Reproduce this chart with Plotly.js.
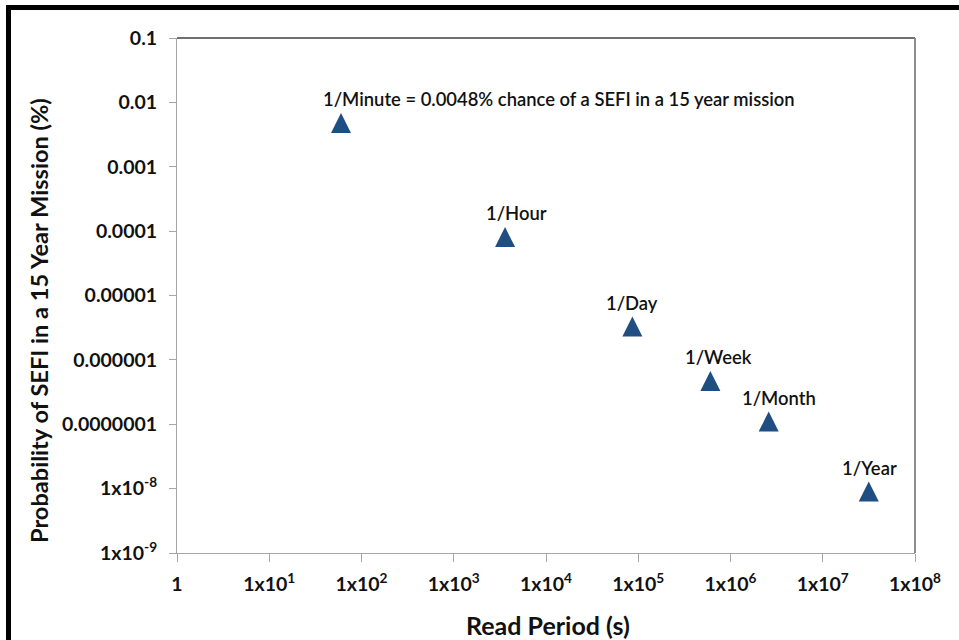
<!DOCTYPE html>
<html>
<head>
<meta charset="utf-8">
<script src="https://cdn.plot.ly/plotly-3.0.1.min.js"></script>
<style>
  html, body { margin: 0; padding: 0; background: #ffffff; }
  #chart { width: 959px; height: 640px; }
</style>
</head>
<body>
<div id="chart"></div>
<script>
// ---- data ----
const readPeriodSeconds = [60, 3600, 86400, 604800, 2592000, 31536000];
const sefiProbabilityPct = [0.0048, 0.000081, 0.0000033, 0.00000047, 0.00000011, 0.0000000090];
const pointLabels = [
  "1/Minute = 0.0048% chance of a SEFI in a 15 year mission",
  "1/Hour", "1/Day", "1/Week", "1/Month", "1/Year"
];
const xTickVals = [1, 1e1, 1e2, 1e3, 1e4, 1e5, 1e6, 1e7, 1e8];
const xTickText = ["1", "1x10<sup>1</sup>", "1x10<sup>2</sup>", "1x10<sup>3</sup>", "1x10<sup>4</sup>",
                   "1x10<sup>5</sup>", "1x10<sup>6</sup>", "1x10<sup>7</sup>", "1x10<sup>8</sup>"];
const yTickVals = [1e-1, 1e-2, 1e-3, 1e-4, 1e-5, 1e-6, 1e-7, 1e-8, 1e-9];
const yTickText = ["0.1", "0.01", "0.001", "0.0001", "0.00001", "0.000001", "0.0000001",
                   "1x10<sup>-8</sup>", "1x10<sup>-9</sup>"];
const xTitle = "Read Period (s)";
const yTitle = "Probability of SEFI in a 15 Year Mission (%)";

// ---- style / layout ----
const W = 959, H = 640;
const M = { l: 177, r: 44, t: 38, b: 87 };
const PW = W - M.l - M.r, PH = H - M.t - M.b;
const px2x = p => (p - M.l) / PW;
const px2y = p => (H - M.b - p) / PH;
const labelXShift = [-20, 11, 0, 8, 10, 1];
const labelAnchor = ["left", "center", "center", "center", "center", "center"];
const FONT = "Lato, 'Open Sans', 'Liberation Sans', sans-serif";
const markerColor = "#1F4E82";

const trace = {
  type: "scatter",
  mode: "markers",
  x: readPeriodSeconds,
  y: sefiProbabilityPct,
  marker: { symbol: "arrow-down", angle: 180, standoff: 10, size: 20, color: markerColor,
            line: { width: 0 } },
  hoverinfo: "x+y",
  showlegend: false
};

const annotations = pointLabels.map((t, i) => ({
  x: Math.log10(readPeriodSeconds[i]),
  y: Math.log10(sefiProbabilityPct[i]),
  xref: "x", yref: "y",
  text: t,
  showarrow: false,
  xanchor: labelAnchor[i],
  yanchor: "middle",
  xshift: labelXShift[i],
  yshift: 24,
  font: { family: FONT, size: 18.4, color: "#111111", weight: 600 }
}));

annotations.push({
  xref: "paper", yref: "paper",
  x: px2x(39), y: px2y(321),
  text: yTitle, textangle: -90, showarrow: false,
  xanchor: "center", yanchor: "middle",
  font: { family: FONT, size: 23.6, color: "#111111", weight: 700 }
});
annotations.push({
  xref: "paper", yref: "paper",
  x: px2x(548), y: px2y(625),
  text: xTitle, showarrow: false,
  xanchor: "center", yanchor: "middle",
  font: { family: FONT, size: 25, color: "#111111", weight: 700 }
});

const shapes = [
  // outer black frame (top and left)
  { type: "rect", xref: "paper", yref: "paper", x0: px2x(6), x1: px2x(W), y0: px2y(10), y1: px2y(5),
    fillcolor: "#000000", line: { width: 0 }, layer: "above" },
  { type: "rect", xref: "paper", yref: "paper", x0: px2x(6), x1: px2x(11), y0: px2y(H), y1: px2y(5),
    fillcolor: "#000000", line: { width: 0 }, layer: "above" },
  // plot-area frame: top and right
  { type: "line", xref: "paper", yref: "paper", x0: 0, x1: 1, y0: 1, y1: 1,
    line: { color: "#404040", width: 1.3 } },
  { type: "line", xref: "paper", yref: "paper", x0: 1, x1: 1, y0: 0, y1: 1,
    line: { color: "#8C8C8C", width: 2 } }
];

const layout = {
  width: W, height: H,
  margin: M,
  paper_bgcolor: "#ffffff",
  plot_bgcolor: "#ffffff",
  font: { family: FONT, color: "#111111" },
  xaxis: {
    type: "log",
    range: [0, 8],
    tickmode: "array", tickvals: xTickVals, ticktext: xTickText,
    ticks: "outside", ticklen: 8, tickcolor: "#A6A6A6", tickwidth: 1,
    showline: true, linecolor: "#A6A6A6", linewidth: 1,
    showgrid: false, zeroline: false,
    ticklabelstandoff: 6,
    tickfont: { family: FONT, size: 19.5, color: "#111111", weight: 700 }
  },
  yaxis: {
    type: "log",
    range: [-9, -1],
    tickmode: "array", tickvals: yTickVals, ticktext: yTickText,
    ticks: "outside", ticklen: 7, tickcolor: "#A6A6A6", tickwidth: 1,
    showline: true, linecolor: "#A6A6A6", linewidth: 1,
    showgrid: false, zeroline: false,
    ticklabelstandoff: 8,
    tickfont: { family: FONT, size: 19.5, color: "#111111", weight: 700 }
  },
  annotations: annotations,
  shapes: shapes
};

Plotly.newPlot("chart", [trace], layout, { displayModeBar: false, staticPlot: true });
</script>
</body>
</html>
